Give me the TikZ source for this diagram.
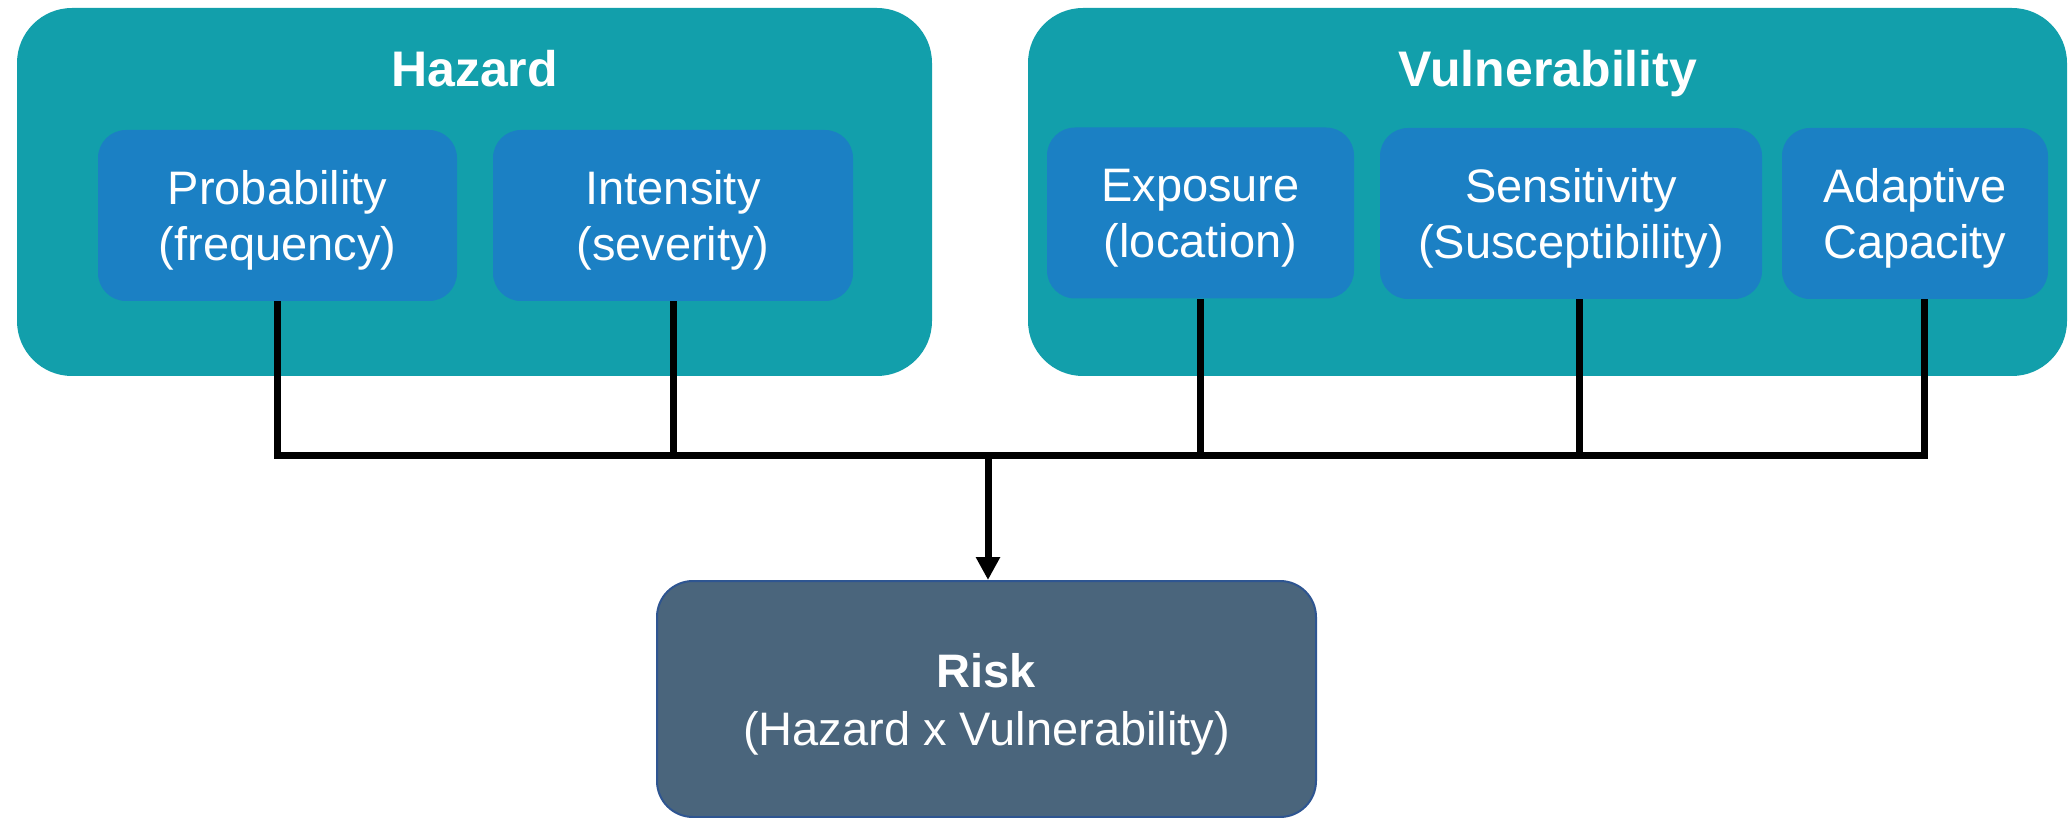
\documentclass[tikz,border=0pt]{standalone}
\usepackage{fontspec}
\setmainfont{Liberation Sans}
\usetikzlibrary{arrows.meta}
\definecolor{groupteal}{RGB}{18,159,171}
\definecolor{factorblue}{RGB}{27,128,196}
\definecolor{riskslate}{RGB}{74,101,124}
\definecolor{riskedge}{RGB}{46,85,145}
\begin{document}
\begin{tikzpicture}[x=0.5pt,y=-0.5pt,
    group/.style={fill=groupteal,rounded corners=27.5pt,minimum height=184pt,inner sep=0pt},
    title/.style={text=white,font=\fontsize{25}{30}\selectfont\bfseries,anchor=base},
    factor/.style={fill=factorblue,rounded corners=14pt,minimum height=85.5pt,inner sep=0pt,
      text=white,align=center,text depth=0pt,font=\fontsize{23.5}{28}\selectfont},
    result/.style={fill=riskslate,draw=riskedge,line width=1pt,rounded corners=18pt,
      minimum width=329.5pt,minimum height=118pt,inner sep=0pt,text depth=0pt,
      text=white,align=center,font=\fontsize{23.5}{29}\selectfont},
    wire/.style={line width=3.5pt},
    arrow/.style={wire,-{Triangle[width=11.5pt,length=11.5pt]}}]
    \useasboundingbox (0,0) rectangle (2069,818);
    \node[group,minimum width=457.5pt] (hazard) at (474.5,192) {};
    \node[group,minimum width=519.5pt] (vuln) at (1547.5,192) {};
    \node[title] at (474.5,87) {Hazard};
    \node[title] at (1548,87) {Vulnerability};
    \node[factor,minimum width=179.5pt] (prob) at (277.5,215.5) {Probability\\(frequency)};
    \node[factor,minimum width=180pt] (int) at (673,215.5) {Intensity\\(severity)};
    \node[factor,minimum width=153.5pt] (exp) at (1200.5,213) {Exposure\\(location)};
    \node[factor,minimum width=191pt] (sens) at (1571,213.5) {Sensitivity\\(Susceptibility)};
    \node[factor,minimum width=133pt] (adap) at (1915,213.5) {Adaptive\\Capacity};
    \node[result] (risk) at (986.5,699) {\textbf{Risk}\\(Hazard x Vulnerability)};
    \coordinate (bus) at (988,456);
    \draw[wire] (prob.south) |- (bus);
    \draw[wire] ([xshift=4.5pt]adap.south) |- (bus);
    \draw[wire] (int.south) -- (int.south |- bus);
    \draw[wire] (exp.south) -- (exp.south |- bus);
    \draw[wire] ([xshift=4pt]sens.south) -- ([xshift=4pt]sens.south |- bus);
    \draw[arrow] (bus) -- (bus |- risk.north);
\end{tikzpicture}
\end{document}
